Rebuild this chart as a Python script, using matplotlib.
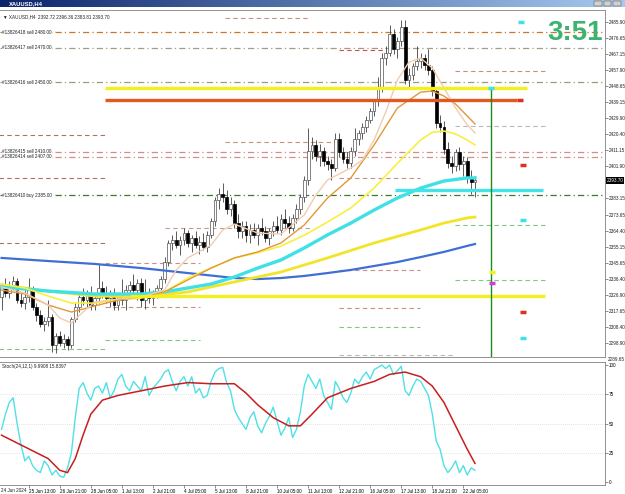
import numpy as np
import matplotlib
matplotlib.use("Agg")
from matplotlib import pyplot as plt
from matplotlib.colors import LinearSegmentedColormap
from matplotlib.patches import Rectangle
import matplotlib.transforms as mtransforms

# ---- candles (XAUUSD H4) ----
opens = [
    2326, 2332, 2328, 2333, 2335, 2324, 2322, 2326, 2330, 2320,
    2315, 2310, 2312, 2314, 2298, 2303, 2299, 2301, 2298, 2313,
    2320, 2326, 2324, 2328, 2321, 2325, 2331, 2328, 2325, 2327,
    2321, 2326, 2324, 2330, 2333, 2330, 2334, 2324, 2327, 2325,
    2328, 2331, 2336, 2346, 2357, 2359, 2356, 2359, 2363, 2357,
    2360, 2356, 2358, 2355, 2362, 2370, 2382, 2386, 2384, 2377,
    2380, 2369, 2364, 2367, 2362, 2365, 2362, 2366, 2364, 2360,
    2364, 2367, 2365, 2371, 2369, 2366, 2372, 2377, 2384, 2394,
    2411, 2414, 2408, 2411, 2405, 2403, 2401, 2418, 2410, 2406,
    2404, 2411, 2418, 2421, 2425, 2429, 2434, 2440, 2448, 2465,
    2468, 2479, 2470, 2475, 2483, 2452, 2455, 2460, 2463, 2465,
    2461, 2458, 2446, 2427, 2425, 2412, 2404, 2402, 2410, 2403,
    2405, 2395, 2392.72]
highs = [
    2334, 2337, 2335, 2338, 2337, 2328, 2330, 2337, 2332, 2322,
    2318, 2314, 2324, 2316, 2305, 2306, 2304, 2303, 2314, 2322,
    2328, 2331, 2330, 2332, 2327, 2345, 2335, 2332, 2330, 2331,
    2328, 2336, 2333, 2335, 2339, 2336, 2337, 2336, 2331, 2330,
    2333, 2338, 2349, 2359, 2362, 2364, 2361, 2366, 2365, 2362,
    2364, 2361, 2363, 2364, 2372, 2384, 2389, 2392, 2388, 2384,
    2382, 2374, 2370, 2370, 2368, 2369, 2368, 2372, 2367, 2366,
    2370, 2373, 2374, 2377, 2373, 2374, 2380, 2386, 2396, 2424,
    2419, 2417, 2415, 2413, 2408, 2406, 2421, 2421, 2413, 2410,
    2413, 2424, 2423, 2427, 2431, 2436, 2441, 2454, 2468, 2472,
    2484, 2482, 2477, 2487, 2487, 2459, 2462, 2472, 2468, 2467,
    2470, 2460, 2448, 2432, 2428, 2416, 2408, 2412, 2413, 2408,
    2407, 2400, 2396.36]
lows = [
    2318, 2326, 2325, 2330, 2322, 2320, 2319, 2323, 2318, 2312,
    2308, 2306, 2309, 2294, 2293, 2297, 2296, 2295, 2296, 2311,
    2317, 2321, 2320, 2318, 2318, 2322, 2325, 2322, 2320, 2318,
    2318, 2321, 2318, 2325, 2327, 2324, 2320, 2319, 2322, 2321,
    2325, 2327, 2334, 2344, 2353, 2354, 2350, 2356, 2355, 2352,
    2354, 2351, 2353, 2352, 2360, 2367, 2377, 2381, 2374, 2373,
    2366, 2360, 2360, 2358, 2357, 2360, 2356, 2362, 2358, 2356,
    2361, 2363, 2362, 2366, 2363, 2364, 2369, 2374, 2381, 2391,
    2406, 2405, 2402, 2402, 2400, 2394, 2399, 2407, 2404, 2401,
    2401, 2408, 2414, 2418, 2422, 2427, 2431, 2437, 2445, 2461,
    2466, 2467, 2465, 2472, 2450, 2448, 2452, 2458, 2459, 2458,
    2455, 2443, 2424, 2422, 2409, 2401, 2398, 2399, 2400, 2396,
    2392, 2386, 2383.81]
closes = [
    2332, 2328, 2333, 2335, 2324, 2322, 2326, 2330, 2320, 2315,
    2310, 2312, 2314, 2298, 2303, 2299, 2301, 2298, 2313, 2320,
    2326, 2324, 2328, 2321, 2325, 2331, 2328, 2325, 2327, 2321,
    2326, 2324, 2330, 2333, 2330, 2334, 2324, 2327, 2325, 2328,
    2331, 2336, 2346, 2357, 2359, 2356, 2359, 2363, 2357, 2360,
    2356, 2358, 2355, 2362, 2370, 2382, 2386, 2384, 2377, 2380,
    2369, 2364, 2367, 2362, 2365, 2362, 2366, 2364, 2360, 2364,
    2367, 2365, 2371, 2369, 2366, 2372, 2377, 2384, 2394, 2411,
    2414, 2408, 2411, 2405, 2403, 2401, 2418, 2410, 2406, 2404,
    2411, 2418, 2421, 2425, 2429, 2434, 2440, 2448, 2465, 2468,
    2479, 2470, 2475, 2483, 2452, 2455, 2460, 2463, 2465, 2461,
    2458, 2446, 2427, 2425, 2412, 2404, 2402, 2410, 2403, 2405,
    2395, 2392.72, 2393.70]

# ---- moving averages (bar index, price) ----
tan_idx = [0, 6, 12, 15, 18, 21, 24, 30, 36, 42, 45, 48, 54, 57, 60, 66, 72, 78, 81, 84,
           90, 93, 96, 99, 102, 105, 108, 111, 114, 117, 120, 122]
tan_val = [2331.6, 2328.1, 2321.1, 2313.5, 2310.6, 2317.0, 2322.8, 2324.6, 2325.8, 2329.8,
           2341.5, 2348.5, 2356.0, 2364.8, 2368.2, 2363.0, 2362.4, 2373.5, 2385.1, 2393.9,
           2400.9, 2405.5, 2417.2, 2433.5, 2452.1, 2462.6, 2464.9, 2459.1, 2447.5, 2435.8,
           2426.0, 2421.3]
mid_idx = [0, 6, 12, 18, 24, 30, 36, 42, 48, 54, 60, 66, 72, 78, 84, 90, 96, 102, 108,
           111, 114, 117, 120, 122]
orange_val = [2329.8, 2327.5, 2321.1, 2317.0, 2320.5, 2324.0, 2325.8, 2328.7, 2335.7, 2342.6,
              2348.5, 2352.0, 2357.2, 2367.7, 2383.4, 2395.1, 2414.3, 2435.8, 2445.1, 2445.7,
              2442.8, 2438.1, 2431.2, 2426.5]
yellow_val = [2333.3, 2331.0, 2326.3, 2322.2, 2322.2, 2324.0, 2325.2, 2328.7, 2336.8, 2342.6,
              2348.5, 2351.5, 2355.4, 2361.7, 2369.4, 2377.6, 2389.2, 2403.6, 2417.2, 2421.7,
              2422.4, 2420.7, 2417.2, 2414.3]
cyan_idx = [0, 12, 24, 36, 42, 48, 54, 60, 66, 72, 78, 84, 90, 96, 102, 108, 114, 120, 122]
cyan_val = [2331.6, 2329.2, 2327.5, 2327.5, 2328.7, 2331.0, 2333.3, 2337.4, 2342.6, 2347.3,
            2354.3, 2361.9, 2368.8, 2376.4, 2383.4, 2389.2, 2393.3, 2395.1, 2395.1]
slowy_idx = [0, 12, 24, 36, 48, 60, 72, 84, 96, 108, 114, 120, 122]
slowy_val = [2332.7, 2329.2, 2326.3, 2325.8, 2328.7, 2334.5, 2340.3, 2348.5, 2357.2, 2364.8,
             2368.8, 2371.8, 2372.3]
blue_idx = [0, 12, 24, 36, 48, 60, 66, 72, 78, 84, 90, 96, 102, 108, 114, 120, 122]
blue_val = [2348.5, 2346.7, 2345.0, 2342.6, 2339.7, 2336.8, 2336.2, 2336.8, 2338.0, 2339.7,
            2341.5, 2343.8, 2346.1, 2349.0, 2352.0, 2355.5, 2356.6]

# ---- stochastic ----
stoch_main = [
    45, 58, 68, 72, 50, 32, 18, 22, 14, 10,
    8, 18, 14, 6, 10, 5, 4, 12, 25, 55,
    80, 85, 76, 70, 80, 82, 76, 85, 72, 78,
    88, 92, 82, 78, 86, 82, 78, 90, 74, 80,
    84, 88, 94, 96, 86, 78, 86, 90, 82, 90,
    76, 80, 72, 74, 86, 94, 97, 98, 85, 78,
    62, 55, 50, 45, 55, 60, 48, 42, 50, 56,
    64, 52, 40, 46, 55, 38, 45, 60, 82, 92,
    86, 80, 88, 74, 68, 62, 86, 80, 72, 68,
    76, 88, 84, 90, 94, 88, 96, 98, 100, 97,
    100, 92, 95, 99, 78, 74, 82, 88, 86, 80,
    74, 58, 35, 28, 14, 8, 12, 18, 8, 14,
    6, 12, 9.99]
sig_idx = [0, 6, 12, 15, 17, 19, 21, 23, 26, 30, 36, 42, 48, 54, 60, 63, 66, 70, 74, 77,
           80, 84, 90, 96, 100, 104, 108, 111, 114, 117, 120, 122]
sig_val = [40, 30, 20, 10, 8, 20, 40, 58, 70, 74, 78, 82, 85, 84, 84, 76, 66, 55, 48, 48,
           58, 72, 80, 86, 92, 94, 90, 82, 68, 48, 28, 15.84]

# ---- axis labels ----
price_ticks = [2485.90, 2476.65, 2467.15, 2457.90, 2448.65, 2439.15, 2429.90, 2420.40,
               2411.15, 2401.90, 2383.15, 2373.65, 2364.40, 2355.15, 2345.65, 2336.40,
               2326.90, 2317.65, 2308.40, 2298.90]
date_labels = ['25 Jun 13:00', '26 Jun 21:00', '28 Jun 05:00', '1 Jul 13:00', '2 Jul 21:00',
               '4 Jul 05:00', '5 Jul 13:00', '8 Jul 21:00', '10 Jul 05:00', '11 Jul 13:00',
               '12 Jul 21:00', '16 Jul 05:00', '17 Jul 13:00', '18 Jul 21:00', '22 Jul 05:00']
date_pos = [7 + 8 * k for k in range(len(date_labels))]

# ---- chart objects: order lines, levels ----
order_lines = [(2480.0, '#13826418 sell 2480.00', '#c8782a'),
               (2471.0, '#13826417 sell 2470.00', '#a89a84'),
               (2450.8, '#13826416 sell 2450.00', '#a09878'),
               (2410.2, '#13826415 sell 2410.00', '#d09088'),
               (2407.3, '#13826414 sell 2407.00', '#d09088'),
               (2385.0, '#13826410 buy 2385.00', '#3c7a2c')]
thick_levels = [(2447.5, 26.7, 135.4, '#f4f020'),
                (2440.3, 26.7, 132.9, '#e2581e'),
                (2387.9, 101.4, 139.5, '#46e2ea'),
                (2326.2, 33.1, 140.1, '#f4f020')]
dashed_levels = [(2488.2, 57.6, 79.5, '#c89080'), (2469.6, 87.0, 98.8, '#d05050'),
                 (2457.4, 116.9, 140.1, '#c89080'), (2425.3, 116.9, 140.1, '#b8b8b8'),
                 (2420.1, -1, 26.7, '#b07060'), (2416.0, 57.6, 86.0, '#c89080'),
                 (2395.0, -1, 26.7, '#b07060'), (2395.0, 87.0, 107.8, '#c89080'),
                 (2366.0, 42.1, 79.5, '#c0a090'), (2367.7, 116.9, 140.1, '#80c880'),
                 (2357.2, -1, 26.7, '#b07060'), (2345.6, 26.7, 51.1, '#c89080'),
                 (2341.5, 87.0, 107.8, '#c89080'), (2335.7, 116.9, 140.1, '#80c880'),
                 (2320.0, 26.7, 51.1, '#c89080'), (2319.4, 87.0, 107.8, '#c89080'),
                 (2308.2, 87.0, 107.8, '#80c880'), (2300.7, 26.7, 51.1, '#80c880'),
                 (2295.5, -1, 26.7, '#80c880'), (2292.0, 87.0, 116.9, '#b8b8b8')]
marks = [(133.9, 2485.9, '#40e0e8'), (126.1, 2447.5, '#40e0e8'), (133.6, 2440.5, '#e03020'),
         (134.4, 2402.6, '#e03020'), (134.4, 2370.6, '#40e0e8'), (126.4, 2340.3, '#f0f020'),
         (126.4, 2333.9, '#d040d0'), (134.4, 2317.0, '#e03020'), (134.4, 2301.7, '#40e0e8')]
vline_x = 126.1
vline_top = 2447.5

W, H = 625, 494
plt.rcParams['font.family'] = ['Liberation Sans', 'DejaVu Sans']
fig = plt.figure(figsize=(6.25, 4.94), dpi=100)
fig.patch.set_facecolor('white')
fs = 3.3

# title bar
tb = fig.add_axes([0, 1 - 7 / H, 1, 7 / H])
cmap = LinearSegmentedColormap.from_list('tb', ['#0a246a', '#a6caf0'])
tb.imshow(np.linspace(0, 1, 256).reshape(1, -1), aspect='auto', cmap=cmap, extent=[0, 1, 0, 1])
tb.set_xlim(0, 1)
tb.set_ylim(0, 1)
tb.axis('off')
tb.text(0.014, 0.5, 'XAUUSD,H4', color='white', fontsize=4.2, fontweight='bold', va='center')
for bx in [0.957, 0.972, 0.987]:
    tb.add_patch(Rectangle((bx - 0.006, 0.1), 0.012, 0.8, facecolor='#d4d0c8', edgecolor='#404040', lw=0.3))

xmin, xmax = -0.4, 155.5
ax = fig.add_axes([0, 1 - 357 / H, 605 / W, 347 / H])
ax.set_xlim(xmin, xmax)
ax.set_ylim(2290.8, 2492.9)

idx = np.arange(len(closes))
o, h, l, c = map(np.array, (opens, highs, lows, closes))
up = c >= o
ax.vlines(idx, l, h, color='#404040', lw=0.6, zorder=3)
ax.bar(idx[up], (c - o)[up], bottom=o[up], width=0.72, color='white', edgecolor='#505050', lw=0.5, zorder=4)
ax.bar(idx[~up], (o - c)[~up], bottom=c[~up], width=0.72, color='black', edgecolor='black', lw=0.5, zorder=4)

ax.plot(blue_idx, blue_val, color='#3f6fd6', lw=1.6, zorder=5)
ax.plot(slowy_idx, slowy_val, color='#f2e428', lw=2.0, zorder=5)
ax.plot(cyan_idx, cyan_val, color='#3fe0e6', lw=2.4, zorder=5)
ax.plot(mid_idx, yellow_val, color='#f8f040', lw=1.2, zorder=5)
ax.plot(mid_idx, orange_val, color='#e0983a', lw=1.0, zorder=5)
ax.plot(tan_idx, tan_val, color='#f0cdb0', lw=1.0, zorder=5)

for price, label, col in order_lines:
    ax.axhline(price, color=col, lw=0.9, ls=(0, (5, 2.5, 1, 2.5)), zorder=2)
    ax.text(0.2, price, label, fontsize=fs, color='#202020', va='center', ha='left', zorder=6,
            bbox=dict(facecolor='white', edgecolor='none', pad=0.4))
for price, x0, x1, col in thick_levels:
    ax.hlines(price, x0, x1, color=col, lw=2.4, zorder=6)
for price, x0, x1, col in dashed_levels:
    ax.hlines(price, x0, x1, color=col, lw=0.8, linestyles=(0, (4, 3)), zorder=2)
for mx, my, col in marks:
    ax.hlines(my, mx - 0.7, mx + 0.7, color=col, lw=2.5, zorder=7)
ax.vlines(vline_x, 2290.8, vline_top, color='#1f8a1f', lw=1.0, zorder=6)

ax.yaxis.tick_right()
ax.set_yticks(price_ticks)
ax.set_yticklabels([f'{p:.2f}' for p in price_ticks])
ax.tick_params(axis='y', labelsize=fs, length=2, width=0.5, color='#606060', pad=0.8, labelcolor='#202020')
ax.set_xticks([])
ax.spines['left'].set_visible(False)
for s in ['right', 'top', 'bottom']:
    ax.spines[s].set_color('#808080')
    ax.spines[s].set_linewidth(0.6)

trans = mtransforms.blended_transform_factory(ax.transAxes, ax.transData)
ax.text(1.003, 2393.70, '2393.70', transform=trans, fontsize=fs, color='white', va='center', ha='left',
        bbox=dict(facecolor='black', edgecolor='none', pad=0.5), zorder=8)
ax.text(0.005, 0.988, '\u25bc XAUUSD,H4  2392.72 2396.36 2383.81 2393.70', transform=ax.transAxes,
        fontsize=fs, color='#202020', va='top', ha='left')

fig.text(603 / W, 1 - 33 / H, '3:51', fontsize=20, fontweight='bold', color='#3cb371',
         ha='right', va='center')
fig.text(607.5 / W, 1 - 359 / H, '2289.65', fontsize=fs, color='#202020', va='center', ha='left')

# stochastic window
ax2 = fig.add_axes([0, 1 - 485 / H, 605 / W, 123 / H])
ax2.set_xlim(xmin, xmax)
ax2.set_ylim(-2.6, 102.6)
for lv in [25, 50, 75]:
    ax2.axhline(lv, color='#c8c8c8', lw=0.5, ls=(0, (1, 2)))
ax2.plot(idx, stoch_main, color='#4fe0e6', lw=1.0)
ax2.plot(sig_idx, sig_val, color='#c81e1e', lw=1.1)
ax2.yaxis.tick_right()
ax2.set_yticks([0, 25, 50, 75, 100])
ax2.set_yticklabels(['0', '25', '50', '75', '100'])
ax2.tick_params(axis='y', labelsize=fs, length=2, width=0.5, color='#606060', pad=0.8)
ax2.set_xticks(date_pos)
ax2.set_xticklabels(date_labels, ha='left')
ax2.tick_params(axis='x', labelsize=fs, length=2, width=0.5, color='#606060', pad=0.8)
ax2.spines['left'].set_visible(False)
for s in ['right', 'top', 'bottom']:
    ax2.spines[s].set_color('#808080')
    ax2.spines[s].set_linewidth(0.6)
ax2.text(0.003, 0.985, 'Stoch(24,12,1) 9.9908 15.8397', transform=ax2.transAxes,
         fontsize=fs, color='#202020', va='top', ha='left')
fig.text(1 / W, 1 - 490 / H, '24 Jun 2024', fontsize=fs, color='#202020', va='center', ha='left')

fig.savefig('out.png', dpi=100)
